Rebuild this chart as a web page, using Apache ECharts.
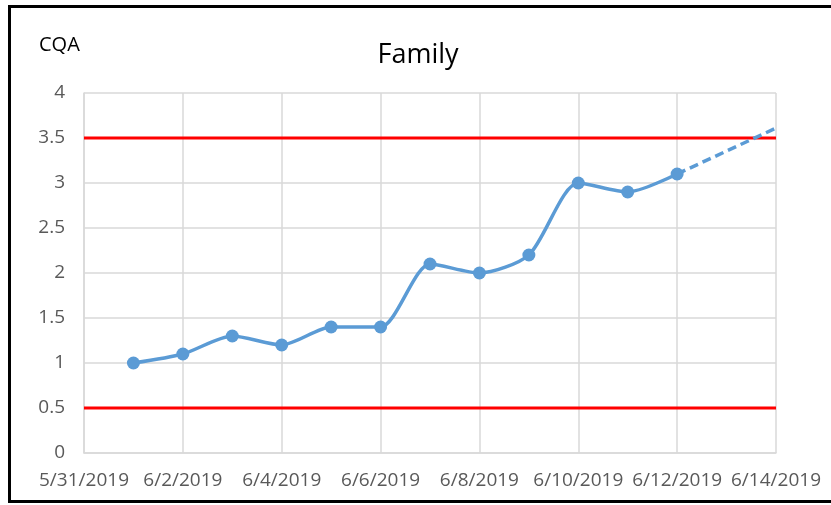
<!DOCTYPE html>
<html>
<head>
<meta charset="utf-8">
<script src="https://cdn.jsdelivr.net/npm/echarts@6/dist/echarts.min.js"></script>
<style>
  html, body { margin: 0; padding: 0; background: #fff; }
  #wrap { position: relative; width: 831px; height: 505px; overflow: hidden; }
  #chart { position: absolute; left: 0; top: 0; width: 831px; height: 505px; }
  #frame { position: absolute; left: 8px; top: 5px; width: 830px; height: 492px;
           border: 3px solid #000; border-right: none; pointer-events: none; }
</style>
</head>
<body>
<div id="wrap">
  <div id="chart"></div>
  <div id="frame"></div>
</div>
<script>
// values
var startDate = '2019-05-31';
var endDate = '2019-06-14';
var dates = ['2019-06-01', '2019-06-02', '2019-06-03', '2019-06-04', '2019-06-05', '2019-06-06',
             '2019-06-07', '2019-06-08', '2019-06-09', '2019-06-10', '2019-06-11', '2019-06-12'];
var cqa = [1.0, 1.1, 1.3, 1.2, 1.4, 1.4, 2.1, 2.0, 2.2, 3.0, 2.9, 3.1];
var trendDates = ['2019-06-12', '2019-06-14'];
var trendVals = [3.1, 3.61];
var upperLimit = 3.5;
var lowerLimit = 0.5;

// days since the first tick, so the 2-day interval starts at 0
var DAY = 86400000;
function dayOf(s) {
  return Math.round((Date.parse(s + 'T00:00:00Z') - Date.parse(startDate + 'T00:00:00Z')) / DAY);
}
function label(n) {
  var d = new Date(Date.parse(startDate + 'T00:00:00Z') + n * DAY);
  return (d.getUTCMonth() + 1) + '/' + d.getUTCDate() + '/' + d.getUTCFullYear();
}
var lastDay = dayOf(endDate);

var font = '"Open Sans", "Liberation Sans", sans-serif';
var chart = echarts.init(document.getElementById('chart'));

chart.setOption({
  animation: false,
  backgroundColor: '#fff',
  title: [
    { text: 'Family', left: 418, top: 42, textAlign: 'center', padding: 0,
      textStyle: { fontFamily: font, fontSize: 27, fontWeight: 'normal', color: '#000' } },
    { text: 'CQA', left: 39, top: 35, padding: 0,
      textStyle: { fontFamily: font, fontSize: 20, fontWeight: 'normal', color: '#000' } }
  ],
  grid: { left: 84, right: 55, top: 93, bottom: 52 },
  xAxis: {
    type: 'value', min: 0, max: lastDay, interval: 2,
    axisLine: { show: true, lineStyle: { color: '#d9d9d9', width: 1.5 } },
    axisTick: { show: false },
    splitLine: { show: true, lineStyle: { color: '#d9d9d9', width: 1.5 } },
    axisLabel: { formatter: label, color: '#595959', fontFamily: font, fontSize: 19, margin: 18,
                 showMinLabel: true, showMaxLabel: true }
  },
  yAxis: {
    type: 'value', min: 0, max: 4, interval: 0.5,
    axisLine: { show: true, lineStyle: { color: '#d9d9d9', width: 1.5 } },
    axisTick: { show: false },
    splitLine: { lineStyle: { color: '#d9d9d9', width: 1.5 } },
    axisLabel: { color: '#595959', fontFamily: font, fontSize: 19, margin: 19 }
  },
  series: [
    { type: 'line', symbol: 'none', silent: true,
      data: [[0, upperLimit], [lastDay, upperLimit]],
      lineStyle: { color: '#ff0000', width: 3 } },
    { type: 'line', symbol: 'none', silent: true,
      data: [[0, lowerLimit], [lastDay, lowerLimit]],
      lineStyle: { color: '#ff0000', width: 3 } },
    { type: 'line', symbol: 'none',
      data: trendDates.map(function (d, i) { return [dayOf(d), trendVals[i]]; }),
      lineStyle: { color: '#5b9bd5', width: 3.5, type: [9, 5] } },
    { type: 'line', smooth: 0.25, symbol: 'circle', symbolSize: 13,
      data: dates.map(function (d, i) { return [dayOf(d), cqa[i]]; }),
      itemStyle: { color: '#5b9bd5' },
      lineStyle: { color: '#5b9bd5', width: 3.5 } }
  ]
});
</script>
</body>
</html>
